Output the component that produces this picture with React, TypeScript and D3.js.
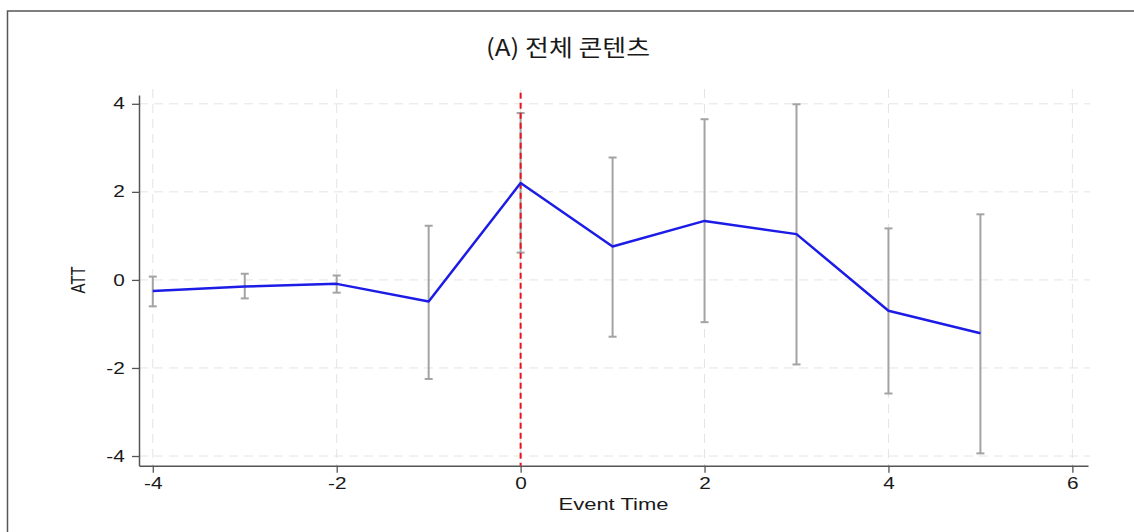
import React, { useEffect, useRef } from 'react';
import * as d3 from 'd3';

// event-study estimates
const eventTime = [-4, -3, -2, -1, 0, 1, 2, 3, 4, 5];
const att = [-0.25, -0.15, -0.09, -0.49, 2.2, 0.76, 1.34, 1.04, -0.7, -1.21];
const ciLower = [-0.6, -0.42, -0.29, -2.25, 0.62, -1.29, -0.96, -1.92, -2.58, -3.94];
const ciUpper = [0.075, 0.14, 0.1, 1.23, 3.79, 2.78, 3.65, 3.99, 1.17, 1.49];

const xTicks = [-4, -2, 0, 2, 4, 6];
const yTicks = [-4, -2, 0, 2, 4];

const title = '(A) 전체 콘텐츠';
const xTitle = 'Event Time';
const yTitle = 'ATT';

const W = 1134;
const H = 532;
// the source image is stretched sideways, so text is widened to match
const STRETCH = 1.3;
const FONT = '"Liberation Sans", Arial, sans-serif';

const App = () => {
  const ref = useRef<SVGSVGElement>(null);

  useEffect(() => {
    const svg = d3.select(ref.current);
    svg.selectAll('*').remove();

    const x = d3.scaleLinear().domain([-4.15, 6.17]).range([139, 1088]);
    const y = d3.scaleLinear().domain([-4.22, 4.2]).range([465.7, 95]);
    const [x0, x1] = x.range();
    const [yb, yt] = y.range();

    // outer frame (right/bottom edges fall outside the picture)
    svg.append('rect')
      .attr('x', 7.5).attr('y', 11)
      .attr('width', 1140).attr('height', 540)
      .attr('fill', 'none')
      .attr('stroke', '#555')
      .attr('stroke-width', 1.5);

    // title
    svg.append('text')
      .attr('x', 568).attr('y', 56)
      .attr('text-anchor', 'middle')
      .attr('textLength', 164)
      .attr('lengthAdjust', 'spacingAndGlyphs')
      .style('font-family', '"Noto Sans CJK KR", sans-serif')
      .style('font-size', '23px')
      .style('font-weight', 400)
      .attr('fill', '#1a1a1a')
      .text(title);

    // grid
    const grid = svg.append('g')
      .attr('stroke', '#e4e4e4')
      .attr('stroke-width', 1)
      .attr('stroke-dasharray', '9,6');
    grid.selectAll('.gy')
      .data(yTicks)
      .enter()
      .append('line')
      .attr('x1', x0).attr('x2', x1 + 2)
      .attr('y1', d => y(d)).attr('y2', d => y(d));
    grid.selectAll('.gx')
      .data(xTicks)
      .enter()
      .append('line')
      .attr('x1', d => x(d)).attr('x2', d => x(d))
      .attr('y1', yt - 6).attr('y2', yb);

    // axes
    const fmt = (d: d3.NumberValue) => String(d);
    const xAxis = svg.append('g')
      .attr('transform', `translate(0,${yb})`)
      .call(d3.axisBottom(x).tickValues(xTicks).tickFormat(fmt).tickSize(7).tickPadding(5).tickSizeOuter(0));
    const yAxis = svg.append('g')
      .attr('transform', `translate(${x0},0)`)
      .call(d3.axisLeft(y).tickValues(yTicks).tickFormat(fmt).tickSize(7).tickPadding(4).tickSizeOuter(0));

    [xAxis, yAxis].forEach(a => {
      a.select('.domain').attr('stroke', '#555').attr('stroke-width', 1.5);
      a.selectAll('.tick line').attr('stroke', '#555').attr('stroke-width', 1.3);
      a.selectAll('.tick text')
        .attr('fill', '#1a1a1a')
        .attr('transform', `scale(${STRETCH},1)`)
        .style('font-family', FONT)
        .style('font-size', '16px');
    });

    // axis titles
    svg.append('text')
      .attr('x', (x0 + x1) / 2).attr('y', 510)
      .attr('text-anchor', 'middle')
      .attr('textLength', 110)
      .attr('lengthAdjust', 'spacingAndGlyphs')
      .style('font-family', FONT)
      .style('font-size', '16px')
      .attr('fill', '#1a1a1a')
      .text(xTitle);
    svg.append('text')
      .attr('transform', `translate(85,${y(0)}) rotate(-90) scale(1,${STRETCH})`)
      .attr('text-anchor', 'middle')
      .style('font-family', FONT)
      .style('font-size', '15px')
      .attr('fill', '#1a1a1a')
      .text(yTitle);

    // confidence intervals
    const ci = svg.append('g')
      .attr('stroke', '#a3a3a3')
      .attr('stroke-width', 2);
    eventTime.forEach((t, i) => {
      ci.append('line')
        .attr('x1', x(t)).attr('x2', x(t))
        .attr('y1', y(ciLower[i])).attr('y2', y(ciUpper[i]));
      [ciLower[i], ciUpper[i]].forEach(v => {
        ci.append('line')
          .attr('x1', x(t) - 4).attr('x2', x(t) + 4)
          .attr('y1', y(v)).attr('y2', y(v));
      });
    });

    // treatment line
    svg.append('line')
      .attr('x1', x(0)).attr('x2', x(0))
      .attr('y1', y(4.25)).attr('y2', yb)
      .attr('stroke', '#e8121c')
      .attr('stroke-width', 2)
      .attr('stroke-dasharray', '6,4');

    // point estimates
    const line = d3.line<number>()
      .x((_, i) => x(eventTime[i]))
      .y(d => y(d));
    svg.append('path')
      .datum(att)
      .attr('d', line)
      .attr('fill', 'none')
      .attr('stroke', '#1c1ce6')
      .attr('stroke-width', 2.5)
      .attr('stroke-linejoin', 'round');
  }, []);

  return (
    <svg
      ref={ref}
      width={W}
      height={H}
      style={{ position: 'absolute', left: 0, top: 0, background: '#fff' }}
    ></svg>
  );
};

export default App;
